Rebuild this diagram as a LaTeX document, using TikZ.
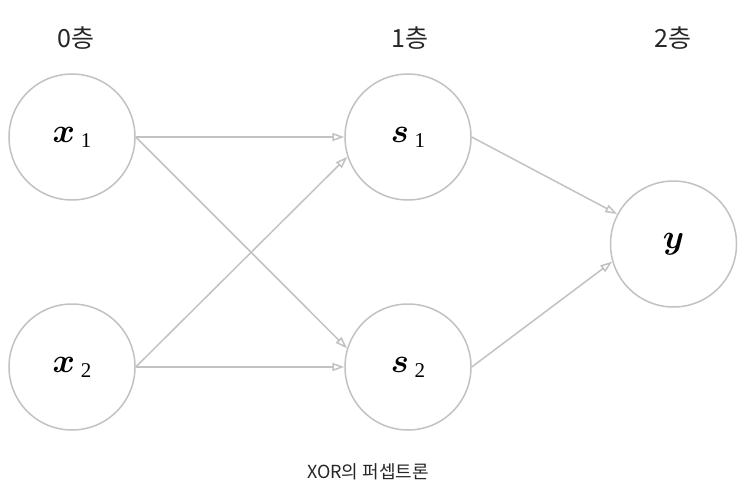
\RequirePackage{fix-cm}
\documentclass[tikz,border=0pt]{standalone}
\usepackage{fontspec}
\setmainfont{Liberation Serif}
\newfontfamily\krfont{Noto Sans CJK KR}
\usetikzlibrary{arrows.meta,positioning}

\begin{document}
\begin{tikzpicture}[x=1pt,y=1pt,>={Triangle[open,length=12pt,width=8pt]},
                    semithick,node distance=336pt]
  \tikzstyle{neuron}=[circle,draw=black!24,line width=1.5pt,fill=white,
                      minimum size=126pt,inner sep=0pt,
                      font=\fontsize{34}{40}\selectfont\boldmath]
  \tikzstyle{layer}=[font=\krfont\fontsize{25}{28}\selectfont,text=black!85]
  \tikzstyle{wire}=[->,draw=black!24,line width=1.5pt]

  \useasboundingbox (0,0) rectangle (743,-492);

  \node[neuron] (x1) at (72,-137) {$x$\,\raisebox{-5pt}{\fontsize{21}{21}\selectfont 1}};
  \node[neuron] (s1) [right of=x1] {$s$\,\raisebox{-5pt}{\fontsize{21}{21}\selectfont 1}};
  \node[neuron] (x2) [below of=x1,node distance=230pt] {$x$\,\raisebox{-5pt}{\fontsize{21}{21}\selectfont 2}};
  \node[neuron] (s2) [right of=x2] {$s$\,\raisebox{-5pt}{\fontsize{21}{21}\selectfont 2}};
  \node[neuron] (y)  at (673.5,-244) {$y$};

  \node[layer] (l0) at (76,-38)  {0층};
  \node[layer] (l1) at (410,-38) {1층};
  \node[layer] (l2) at (673,-38) {2층};
  \node[font=\krfont\fontsize{18}{20}\selectfont,text=black!85] (cap) at (368,-472) {XOR의 퍼셉트론};

  \path
(x1.east) edge [wire] (s1.west)
(x1.east) edge [wire] (s2.163)
(x2.east) edge [wire] (s1.198)
(x2.east) edge [wire] (s2.west)
(s1.east) edge [wire] (y.152)
(s2.east) edge [wire] (y.196);

\end{tikzpicture}
\end{document}
